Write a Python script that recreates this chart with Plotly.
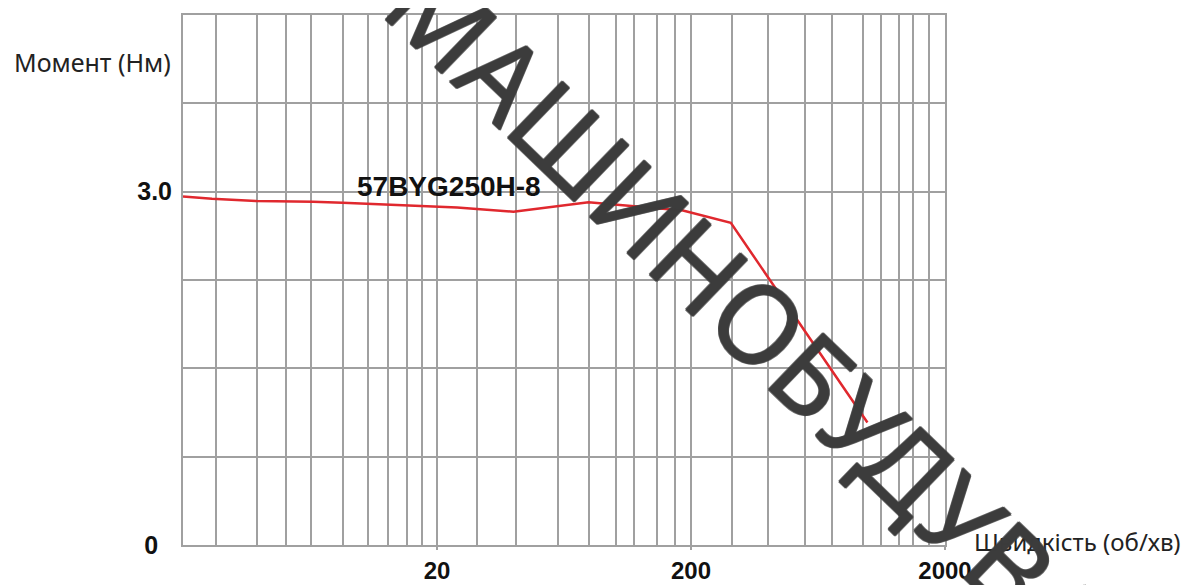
import plotly.graph_objects as go

# Data
speed_rpm = [2, 2.6, 3.9, 6.5, 8.5, 24, 40, 79, 186, 287, 990]
torque_nm = [2.96, 2.94, 2.92, 2.915, 2.905, 2.865, 2.83, 2.91, 2.84, 2.735, 1.04]

x_grid_vals = [2.7, 3.9, 5.1, 6.4, 8.5, 10.7, 12.8, 15.2, 17.5, 28.7, 41, 60, 79, 101,
               119, 147, 173, 290, 401, 562, 718, 951, 1119, 1318, 1496, 1729]
x_tick_vals = [20, 200, 2000]
x_tick_text = ["20", "200", "2000"]
y_grid_vals = [0, 0.75, 1.5, 2.25, 3.0, 3.75, 4.5]
y_tick_text = ["0\u00a0\u00a0", "", "", "", "3.0", "", ""]

curve_name = "57BYG250H-8"
y_title = "Момент (Нм)"
x_title = "Швидкість (об/хв)"
watermark = "МАШИНОБУДУВАННЯ"

GRID = "#a0a0a0"
WM = "rgba(60,60,60,0.85)"

fig = go.Figure()
fig.add_trace(go.Scatter(x=speed_rpm, y=torque_nm, mode="lines",
                         line=dict(color="#e0282e", width=2.5),
                         name=curve_name, showlegend=False, hoverinfo="x+y"))

fig.update_layout(
    width=1194, height=577,
    margin=dict(l=175, r=257, t=7, b=40),
    paper_bgcolor="white", plot_bgcolor="white",
    xaxis=dict(type="log", range=[0.30103, 3.30103], automargin=False,
               tickmode="array", tickvals=x_tick_vals, ticktext=x_tick_text,
               ticks="outside", ticklen=3, tickwidth=2, tickcolor=GRID,
               showgrid=True, gridcolor=GRID, gridwidth=2,
               minor=dict(tickmode="array", tickvals=x_grid_vals, showgrid=True,
                          gridcolor=GRID, gridwidth=2, ticks=""),
               showline=True, linecolor=GRID, linewidth=2, mirror=True,
               tickfont=dict(family="Liberation Sans", size=24, color="#111", weight="bold"),
               ticklabelstandoff=0, zeroline=False),
    yaxis=dict(range=[0, 4.5], automargin=False,
               tickmode="array", tickvals=y_grid_vals, ticktext=y_tick_text,
               showgrid=True, gridcolor=GRID, gridwidth=2,
               showline=True, linecolor=GRID, linewidth=2, mirror=True,
               tickfont=dict(family="Liberation Sans", size=25, color="#111", weight="bold"),
               ticklabelstandoff=4, zeroline=False),
    font=dict(family="Liberation Sans"),
)

fig.add_annotation(x=1.348, y=3.04, xref="x", yref="y", text="<b>" + curve_name + "</b>",
                   showarrow=False, font=dict(family="Liberation Sans", size=28, color="#111"))
fig.add_annotation(x=(12 - 183) / 762, y=(545 - 62) / 530, xref="paper", yref="paper",
                   xanchor="left", yanchor="middle", text=y_title, showarrow=False,
                   font=dict(family="Noto Sans", size=25, color="#222"))
fig.add_annotation(x=(972 - 183) / 762, y=(545 - 541) / 530, xref="paper", yref="paper",
                   xanchor="left", yanchor="middle", text=x_title, showarrow=False,
                   font=dict(family="Noto Sans", size=24, color="#222"))
fig.add_annotation(x=(832 - 183) / 762, y=(545 - 391) / 530, xref="paper", yref="paper",
                   xanchor="center", yanchor="middle", text=watermark, showarrow=False,
                   textangle=44,
                   font=dict(family="Noto Sans", size=110, color=WM,
                             shadow="1px 0 0 %s, -1px 0 0 %s, 0 1px 0 %s, 0 -1px 0 %s" % (WM, WM, WM, WM)))

fig.write_html("out.html")
